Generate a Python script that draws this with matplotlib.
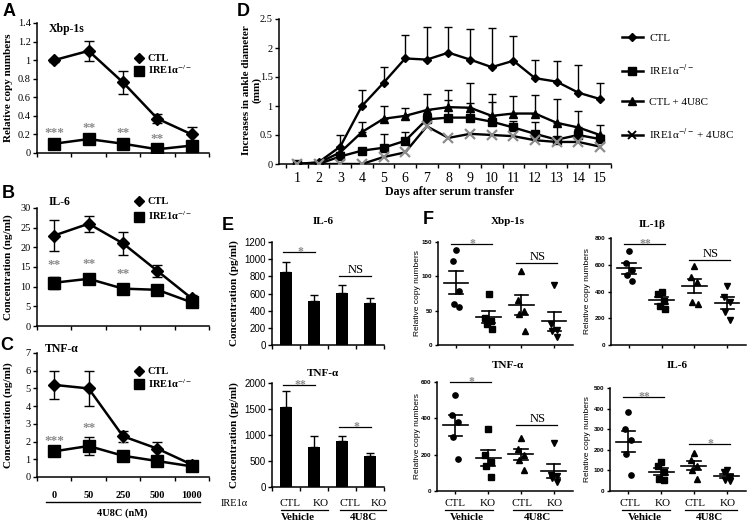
import numpy as np
import matplotlib
matplotlib.use('Agg')
import matplotlib.pyplot as plt
from matplotlib.lines import Line2D

# ---------------- data ----------------
conc_labels = ['0', '50', '250', '500', '1000']

a_ctl = [1.0, 1.1, 0.76, 0.37, 0.2]
a_ctl_err = [0.015, 0.11, 0.12, 0.05, 0.08]
a_ko = [0.1, 0.15, 0.1, 0.04, 0.08]
a_ko_err = [0.02, 0.025, 0.02, 0.02, 0.035]
a_stars = ['***', '**', '**', '**', '']

b_ctl = [23, 26, 21, 14, 7]
b_ctl_err = [4, 2, 3, 1.5, 1]
b_ko = [11, 12, 9.5, 9.2, 6]
b_ko_err = [1.5, 0.8, 0.8, 0.8, 1]
b_stars = ['**', '**', '**', '*', '']

c_ctl = [5.2, 5.0, 2.3, 1.6, 0.7]
c_ctl_err = [0.8, 1.0, 0.3, 0.4, 0.1]
c_ko = [1.45, 1.75, 1.2, 0.9, 0.6]
c_ko_err = [0.1, 0.5, 0.15, 0.2, 0.1]
c_stars = ['***', '**', '*', '', '']

days = list(range(1, 16))
d_ctl = [0, 0.03, 0.3, 1.0, 1.4, 1.82, 1.8, 1.92, 1.8, 1.67, 1.78, 1.48, 1.42, 1.23, 1.12]
d_ctl_err = [0, 0, 0.2, 0.28, 0.27, 0.41, 0.57, 0.45, 0.52, 0.68, 0.42, 0.31, 0.36, 0.48, 0.27]
d_ko = [0, 0, 0.13, 0.23, 0.28, 0.4, 0.77, 0.8, 0.8, 0.73, 0.63, 0.52, 0.42, 0.5, 0.43]
d_ko_err = [0, 0, 0.05, 0.05, 0.24, 0.15, 0.1, 0.3, 0.25, 0.34, 0.12, 0.2, 0.25, 0.1, 0.07]
d_ctl4 = [0, 0.02, 0.2, 0.55, 0.78, 0.83, 0.93, 0.98, 0.97, 0.83, 0.87, 0.87, 0.71, 0.63, 0.5]
d_ctl4_err = [0, 0, 0.1, 0.17, 0.22, 0.13, 0.27, 0.29, 0.43, 0.37, 0.31, 0.32, 0.41, 0.28, 0.17]
d_ko4 = [0, 0, 0, 0, 0.12, 0.2, 0.65, 0.45, 0.52, 0.5, 0.48, 0.41, 0.38, 0.38, 0.3]

e_groups = ['CTL', 'KO', 'CTL', 'KO']
e_il6 = [850, 515, 610, 495]
e_il6_err = [118, 66, 85, 58]
e_il6_sig = [(0, 1, 1080, '*'), (2, 3, 800, 'NS')]
e_tnf = [1540, 770, 880, 600]
e_tnf_err = [315, 220, 107, 55]
e_tnf_sig = [(0, 1, 1960, '**'), (2, 3, 1160, '*')]

f_xbp = [[138, 123, 78, 59, 56], [75, 40, 35, 30, 23], [108, 65, 50, 45, 20], [88, 30, 22, 20, 12]]
f_xbp_sig = [(0, 1, 147, '*'), (2, 3, 120, 'NS')]
f_il1b = [[700, 610, 560, 520, 475], [400, 380, 330, 290, 270], [590, 510, 470, 320, 310], [440, 360, 320, 250, 190]]
f_il1b_sig = [(0, 1, 755, '**'), (2, 3, 637, 'NS')]
f_tnf = [[530, 420, 380, 300, 175], [340, 200, 160, 140, 75], [290, 230, 200, 170, 115], [265, 90, 80, 70, 50]]
f_tnf_sig = [(0, 1, 600, '*'), (2, 3, 364, 'NS')]
f_il6 = [[385, 300, 250, 180, 80], [140, 120, 90, 60, 55], [185, 150, 120, 100, 60], [100, 90, 70, 55, 50]]
f_il6_sig = [(0, 1, 455, '**'), (2, 3, 229, '*')]

# ---------------- style ----------------
W, H = 747, 526
SERIF = ['Liberation Serif', 'DejaVu Serif']
SANS = ['Liberation Sans', 'DejaVu Sans']
plt.rcParams['font.family'] = SERIF
plt.rcParams['mathtext.fontset'] = 'stix'
GRAY = '#8a8a8a'
KO_LABEL = 'IRE1α$^{-/-}$'

fig = plt.figure(figsize=(W / 100, H / 100), dpi=100)


def add_ax(l, t, r, b):
    ax = fig.add_axes([l / W, 1 - b / H, (r - l) / W, (b - t) / H])
    for s in ('top', 'right'):
        ax.spines[s].set_visible(False)
    for s in ('left', 'bottom'):
        ax.spines[s].set_linewidth(1.1)
    return ax


def ftext(x, y, s, **kw):
    kw.setdefault('ha', 'center')
    kw.setdefault('va', 'center')
    fig.text(x / W, 1 - y / H, s, **kw)


def fline(x0, x1, y, lw=1.0):
    fig.add_artist(Line2D([x0 / W, x1 / W], [1 - y / H, 1 - y / H], color='k', lw=lw))


def ylab(ax, text, xr, yc, **kw):
    ax.set_ylabel(text, **kw)
    ax.yaxis.set_label_coords(xr / W, 1 - yc / H, transform=fig.transFigure)


def fmt(v):
    return f'{v:g}'


# ---------------- panels A, B, C ----------------
def abc_panel(box, ctl, ctl_err, ko, ko_err, stars, ymax, ystep, star_pad,
              title, title_xy, ylabel, leg_xy, leg_sp, xlabels=None):
    ax = add_ax(*box)
    x = np.arange(len(ctl))
    ax.errorbar(x, ctl, yerr=ctl_err, color='k', lw=1.8, marker='D', ms=6,
                capsize=3.5, elinewidth=1, capthick=1, zorder=3)
    ax.errorbar(x, ko, yerr=ko_err, color='k', lw=1.8, marker='s', ms=8,
                capsize=3.5, elinewidth=1, capthick=1, zorder=3)
    for xi, v, e, s in zip(x, ko, ko_err, stars):
        if s:
            ax.text(xi, v + e + star_pad, s, ha='center', va='bottom',
                    color=GRAY, fontsize=9.5, fontweight='bold')
    ax.set_xlim(-0.5, 4.5)
    ax.set_ylim(0, ymax)
    yt = np.arange(0, ymax + ystep / 2, ystep)
    ax.set_yticks(yt)
    ax.set_yticklabels([fmt(round(v, 2)) for v in yt])
    ax.set_xticks(np.arange(-0.5, 4.6, 1.0))
    ax.set_xticklabels([])
    ax.tick_params(direction='out', length=3, width=1, labelsize=7.5, pad=1.5)
    if xlabels is not None:
        ax.set_xticks(x, minor=True)
        ax.set_xticklabels(xlabels, minor=True, fontsize=7.5, fontweight='bold')
        ax.tick_params(axis='x', which='minor', length=0, pad=10)
    ylab(ax, ylabel, box[0] - 24, (box[1] + box[3]) / 2,
         fontsize=8, fontweight='bold')
    ftext(title_xy[0], title_xy[1], title, fontsize=8.5, fontweight='bold')
    handles = [Line2D([], [], color='k', marker='D', ls='none', ms=5.5),
               Line2D([], [], color='k', marker='s', ls='none', ms=7)]
    ax.legend(handles, ['CTL', KO_LABEL], loc='upper left',
              bbox_to_anchor=(leg_xy[0] / W, 1 - leg_xy[1] / H),
              bbox_transform=fig.transFigure, frameon=False, borderpad=0,
              borderaxespad=0, handlelength=1.0, handletextpad=0.3,
              labelspacing=leg_sp, prop={'size': 7.5, 'weight': 'bold'})
    return ax


abc_panel((37, 23, 209, 153), a_ctl, a_ctl_err, a_ko, a_ko_err, a_stars,
          1.4, 0.2, 0.03, 'Xbp-1s', (67, 29), 'Relative copy numbers',
          (134, 54), 0.02)
abc_panel((37, 208, 209, 326), b_ctl, b_ctl_err, b_ko, b_ko_err, b_stars,
          30, 5, 1.4, 'IL-6', (60, 202), 'Concentration (ng/ml)',
          (134, 197), 0.3)
ax_c = abc_panel((37, 353, 209, 477), c_ctl, c_ctl_err, c_ko, c_ko_err, c_stars,
                 7, 1, 0.15, 'TNF-α', (62, 349), 'Concentration (ng/ml)',
                 (134, 367), 0.05, xlabels=conc_labels)
fline(46, 200, 502, lw=1.0)
ftext(122, 513, '4U8C (nM)', fontsize=7.5, fontweight='bold')

# ---------------- panel D ----------------
axd = add_ax(279, 19, 611, 164)
z = np.zeros(len(days))
axd.errorbar(days, d_ctl, yerr=[z, d_ctl_err], color='k', lw=1.7, marker='D',
             ms=4.5, capsize=3, elinewidth=1, capthick=1, zorder=4)
axd.errorbar(days, d_ctl4, yerr=[z, d_ctl4_err], color='k', lw=1.7, marker='^',
             ms=5.5, capsize=3, elinewidth=1, capthick=1, zorder=3)
axd.errorbar(days, d_ko, yerr=[z, d_ko_err], color='k', lw=1.7, marker='s',
             ms=5.5, capsize=3, elinewidth=1, capthick=1, zorder=3)
axd.plot(days, d_ko4, color='k', lw=1.7, marker='x', ms=7, mew=1.6,
         mec='#8c8c8c', zorder=5)
axd.set_xlim(0.17, 15.51)
axd.set_ylim(0, 2.5)
axd.set_yticks([0, 0.5, 1, 1.5, 2, 2.5])
axd.set_yticklabels(['0', '0.5', '1', '1.5', '2', '2.5'])
axd.set_xticks(np.arange(0.5, 15.6, 1.0))
axd.set_xticklabels([])
axd.set_xticks(days, minor=True)
axd.set_xticklabels([str(d) for d in days], minor=True)
axd.tick_params(direction='out', length=3, width=1, labelsize=7.5, pad=1.5)
axd.tick_params(axis='x', which='minor', length=0, pad=6)
ylab(axd, 'Increases in ankle diameter\n(mm)', 261, 90, fontsize=8,
     fontweight='bold', linespacing=1.1)
ftext(450, 192, 'Days after serum transfer', fontsize=8.5, fontweight='bold')
dh = [Line2D([], [], color='k', marker='D', ms=4.5, lw=1.8),
      Line2D([], [], color='k', marker='s', ms=5.5, lw=1.8),
      Line2D([], [], color='k', marker='^', ms=5.5, lw=1.8),
      Line2D([], [], color='k', marker='x', ms=6, mew=1.4, lw=1.8)]
fig.legend(dh, ['CTL', KO_LABEL, 'CTL + 4U8C', KO_LABEL + ' + 4U8C'],
           loc='upper left', bbox_to_anchor=(616 / W, 1 - 28 / H),
           frameon=False, borderpad=0, handlelength=1.9, handletextpad=0.6,
           labelspacing=1.75, prop={'size': 8})

# ---------------- panel E ----------------
def bar_panel(box, vals, errs, sig, ymax, ystep, title, title_y):
    ax = add_ax(*box)
    x = np.arange(len(vals))
    ax.bar(x, vals, width=0.44, color='k', zorder=2)
    ax.errorbar(x, vals, yerr=[np.zeros(len(errs)), errs], fmt='none',
                ecolor='k', elinewidth=1, capsize=3, capthick=1)
    for i0, i1, yv, s in sig:
        ax.plot([i0 - 0.1, i1 + 0.05], [yv, yv], color='k', lw=0.9,
                clip_on=False)
        col = 'k' if s == 'NS' else GRAY
        ax.text((i0 + i1) / 2, yv, s, ha='center',
                va='bottom' if s == 'NS' else 'center',
                color=col, fontsize=9 if s == 'NS' else 8.5,
                fontweight='bold' if s != 'NS' else 'normal')
    ax.set_xlim(-0.5, 3.5)
    ax.set_ylim(0, ymax)
    yt = np.arange(0, ymax + 1, ystep)
    ax.set_yticks(yt)
    ax.set_yticklabels([str(int(v)) for v in yt], family=SANS)
    ax.set_xticks(np.arange(-0.5, 3.6, 1.0))
    ax.set_xticklabels([])
    ax.tick_params(direction='out', length=3, width=1, labelsize=7, pad=1.5)
    ylab(ax, 'Concentration (pg/ml)', 239, (box[1] + box[3]) / 2,
         fontsize=8, fontweight='bold')
    ftext(323, title_y, title, fontsize=8, fontweight='bold')
    return ax


bar_panel((272, 242, 384, 345), e_il6, e_il6_err, e_il6_sig, 1200, 200, 'IL-6', 221)
bar_panel((272, 383, 384, 487), e_tnf, e_tnf_err, e_tnf_sig, 2000, 500, 'TNF-α', 373)


def group_labels(xs, ul, vx, y0=504):
    for xp, s in zip(xs, e_groups):
        ftext(xp, y0, s, fontsize=8)
    for a, b in ul:
        fline(a, b, y0 + 6, lw=0.9)
    ftext(vx[0], y0 + 14, 'Vehicle', fontsize=8, fontweight='bold')
    ftext(vx[1], y0 + 14, '4U8C', fontsize=8, fontweight='bold')


group_labels([290, 321, 350, 379], [(281, 328), (340, 386)], (298, 363))
ftext(234, 503, 'IRE1α', fontsize=7.5)

# ---------------- panel F ----------------
f_markers = ['o', 's', '^', 'v']
jitter = [0.0, -0.1, 0.08, -0.06, 0.1]


def scatter_panel(box, groups, sig, ymax, ystep, title, title_xy, ylab_x):
    ax = add_ax(*box)
    for i, (pts, m) in enumerate(zip(groups, f_markers)):
        pts = np.asarray(pts, float)
        xs = i + np.array(jitter[:len(pts)])
        ax.plot(xs, pts, ls='none', marker=m, ms=3.8, color='k', zorder=3)
        mean = pts.mean()
        sem = pts.std(ddof=1) / np.sqrt(len(pts))
        ax.plot([i - 0.38, i + 0.38], [mean, mean], color='k', lw=1.2)
        ax.plot([i - 0.2, i + 0.2], [mean + sem] * 2, color='k', lw=1.2)
        ax.plot([i - 0.2, i + 0.2], [mean - sem] * 2, color='k', lw=1.2)
        ax.plot([i, i], [mean - sem, mean + sem], color='k', lw=1.2)
    for i0, i1, yv, s in sig:
        ax.plot([i0 - 0.15, i1 + 0.1], [yv, yv], color='k', lw=0.9,
                clip_on=False)
        col = 'k' if s == 'NS' else GRAY
        ax.text((i0 + i1) / 2, yv, s, ha='center',
                va='bottom' if s == 'NS' else 'center', color=col,
                fontsize=9 if s == 'NS' else 8.5,
                fontweight='normal' if s == 'NS' else 'bold')
    ax.set_xlim(-0.55, 3.58)
    ax.set_ylim(0, ymax)
    yt = np.arange(0, ymax + 1, ystep)
    ax.set_yticks(yt)
    ax.set_yticklabels([str(int(v)) for v in yt], family=SANS,
                       fontweight='bold')
    ax.set_xticks(range(4))
    ax.set_xticklabels([])
    ax.tick_params(direction='out', length=2.5, width=1, labelsize=4.5, pad=1.5)
    ylab(ax, 'Relative copy numbers', ylab_x, (box[1] + box[3]) / 2,
         fontsize=6, family=SANS)
    ftext(title_xy[0], title_xy[1], title, fontsize=8, fontweight='bold')
    return ax


scatter_panel((438, 242, 573, 345), f_xbp, f_xbp_sig, 150, 50, 'Xbp-1s', (508, 221), 421)
scatter_panel((611, 238, 746, 345), f_il1b, f_il1b_sig, 800, 200, 'IL-1β', (652, 225), 591)
scatter_panel((437, 382, 573, 491), f_tnf, f_tnf_sig, 600, 200, 'TNF-α', (508, 365), 421)
scatter_panel((610, 388, 746, 491), f_il6, f_il6_sig, 500, 100, 'IL-6', (677, 365), 591)

group_labels([455, 488, 522, 555], [(445, 493), (513, 562)], (467, 537))
group_labels([630, 663, 695, 728], [(622, 670), (685, 737)], (645, 710))

# ---------------- panel letters ----------------
for lt, (x, y) in {'A': (9, 12), 'B': (8, 194), 'C': (7, 346), 'D': (243, 11),
                   'E': (228, 226), 'F': (428, 220)}.items():
    ftext(x, y, lt, fontsize=13, fontweight='bold', family=SANS)

fig.savefig('out.png', dpi=100)
